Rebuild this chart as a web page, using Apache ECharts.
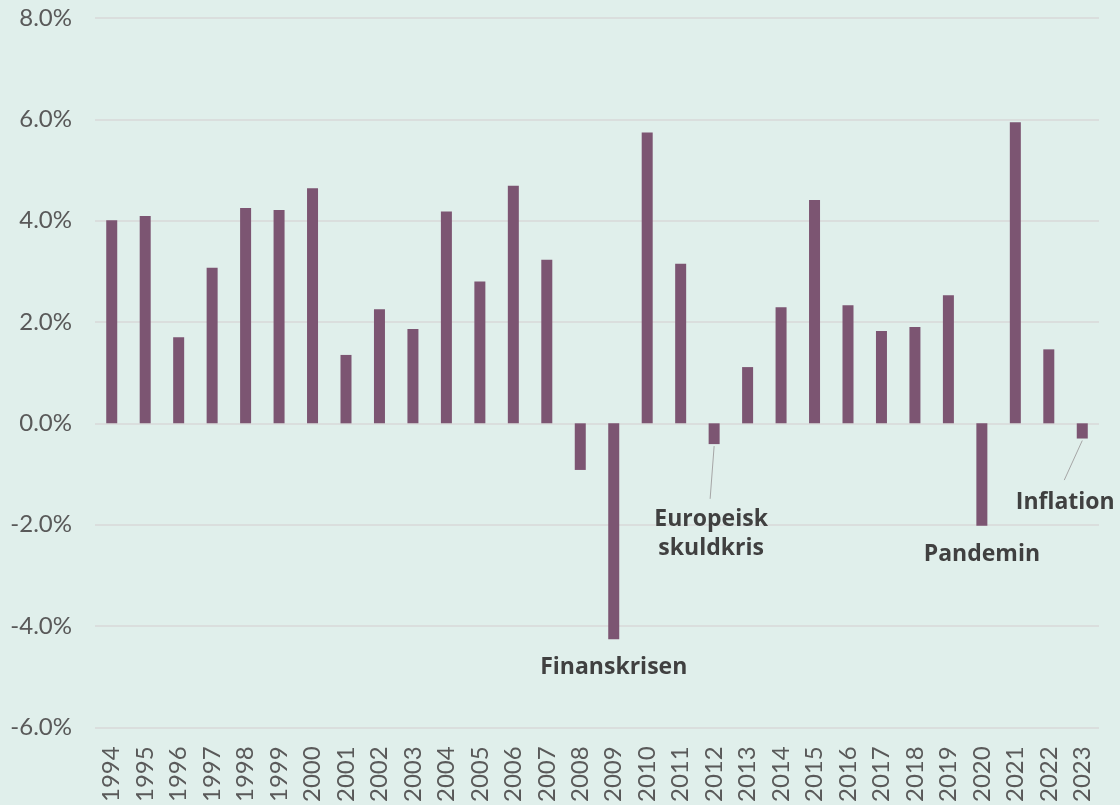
<!DOCTYPE html>
<html>
<head>
<meta charset="utf-8">
<script src="https://cdn.jsdelivr.net/npm/echarts@6/dist/echarts.min.js"></script>
<style>
  html, body { margin: 0; padding: 0; background: #e0efeb; }
  #chart { width: 1120px; height: 805px; }
</style>
</head>
<body>
<div id="chart"></div>
<script>
// Years (categories)
var years = ['1994','1995','1996','1997','1998','1999','2000','2001','2002','2003',
             '2004','2005','2006','2007','2008','2009','2010','2011','2012','2013',
             '2014','2015','2016','2017','2018','2019','2020','2021','2022','2023'];
// Annual values in percent
var values = [4.01, 4.09, 1.70, 3.07, 4.25, 4.21, 4.64, 1.35, 2.25, 1.86,
              4.18, 2.80, 4.69, 3.23, -0.92, -4.26, 5.74, 3.15, -0.41, 1.11,
              2.29, 4.41, 2.33, 1.82, 1.90, 2.53, -2.02, 5.94, 1.46, -0.30];
// Y axis ticks
var yMin = -6, yMax = 8, yStep = 2;
// Annotation texts with the year and value they refer to
var noteYears  = ['2009', '2012', '2020', '2023'];
var noteTexts  = ['Finanskrisen', 'Europeisk\nskuldkris', 'Pandemin', 'Inflation'];
var noteLevels = [-4.82, -2.19, -2.59, -1.57];

var chart = echarts.init(document.getElementById('chart'), null, {renderer: 'canvas'});
var option = {
  backgroundColor: '#e0efeb',
  animation: false,
  grid: { left: 95, right: 21, top: 18, bottom: 72, containLabel: false },
  xAxis: {
    type: 'category',
    data: years,
    boundaryGap: true,
    axisLine: { show: false },
    axisTick: { show: false },
    axisLabel: {
      rotate: 90,
      margin: 19,
      color: '#595959',
      fontFamily: 'Lato',
      fontSize: 24,
      interval: 0
    }
  },
  yAxis: {
    type: 'value',
    min: yMin, max: yMax, interval: yStep,
    axisLine: { show: false },
    axisTick: { show: false },
    splitLine: { lineStyle: { color: '#d9d9d9', width: 1.5 } },
    axisLabel: {
      margin: 23,
      color: '#595959',
      fontFamily: 'Lato',
      fontSize: 24,
      formatter: function (v) { return v.toFixed(1) + '%'; }
    }
  },
  series: [{
    type: 'bar',
    data: values,
    barWidth: 11,
    itemStyle: { color: '#7c5572' }
  }]
};
chart.setOption(option);

function px(year, val) { return chart.convertToPixel({xAxisIndex: 0, yAxisIndex: 0}, [year, val]); }

var graphics = [];
// label offsets (pixel nudges)
var noteDx = [0, -3, 0, -17];
for (var i = 0; i < noteYears.length; i++) {
  var p = px(noteYears[i], noteLevels[i]);
  graphics.push({
    type: 'text',
    x: p[0] + noteDx[i], y: p[1],
    style: {
      text: noteTexts[i],
      fill: '#404040',
      font: 'bold 23px "Open Sans"',
      textAlign: 'center',
      textVerticalAlign: 'middle',
      lineHeight: 29
    },
    z: 10
  });
}
// leader lines
var idx2012 = years.indexOf('2012');
var a1 = px('2012', values[idx2012]);
var b1 = px('2012', -1.49);
graphics.push({ type: 'line', shape: { x1: a1[0], y1: a1[1] + 2, x2: b1[0] - 4, y2: b1[1] },
  style: { stroke: '#a6a6a6', lineWidth: 1 }, z: 10 });
var idx2023 = years.indexOf('2023');
var a2 = px('2023', values[idx2023]);
var b2 = px('2023', -1.12);
graphics.push({ type: 'line', shape: { x1: a2[0], y1: a2[1] + 2, x2: b2[0] - 18, y2: b2[1] },
  style: { stroke: '#a6a6a6', lineWidth: 1 }, z: 10 });

chart.setOption({ graphic: graphics });
</script>
</body>
</html>
